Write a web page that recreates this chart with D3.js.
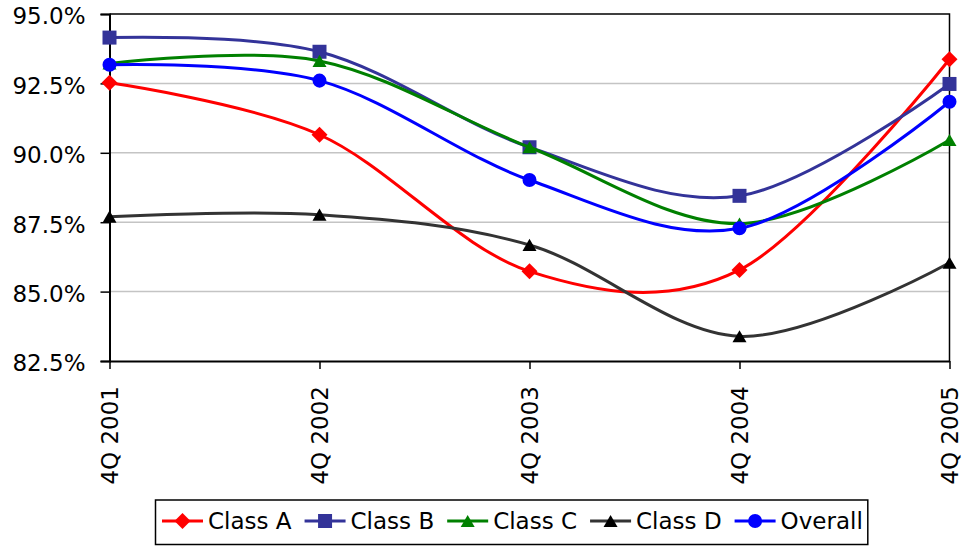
<!DOCTYPE html>
<html>
<head>
<meta charset="utf-8">
<script src="https://cdn.jsdelivr.net/npm/d3@7/dist/d3.min.js"></script>
<style>
  html, body { margin: 0; padding: 0; background: #fff; }
  svg { display: block; }
  text { font-family: "DejaVu Sans", Verdana, sans-serif; fill: #000; }
</style>
</head>
<body>
<svg id="chart" width="962" height="546"></svg>
<script>
// Occupancy rates by quarter
const quarters = ["4Q 2001", "4Q 2002", "4Q 2003", "4Q 2004", "4Q 2005"];
const classA  = [92.52, 90.65, 85.73, 85.78, 93.37];
const classB  = [94.15, 93.64, 90.20, 88.45, 92.48];
const classC  = [93.22, 93.31, 90.20, 87.45, 90.46];
const classD  = [87.70, 87.77, 86.68, 83.39, 86.04];
const overall = [93.17, 92.60, 89.02, 87.28, 91.84];
const yTicks  = [82.5, 85.0, 87.5, 90.0, 92.5, 95.0];

const seriesNames = ["Class A", "Class B", "Class C", "Class D", "Overall"];
const seriesValues = [classA, classB, classC, classD, overall];
const lineColors   = ["#ff0000", "#333399", "#008000", "#333333", "#0000ff"];
const markerColors = ["#ff0000", "#333399", "#008000", "#000000", "#0000ff"];
const markerKinds  = ["diamond", "square", "triangle", "triangle", "circle"];

const svg = d3.select("#chart");
const plot = { left: 109.5, right: 949.5, top: 14, bottom: 361 };

const x = d3.scalePoint().domain(quarters).range([plot.left, plot.right]);
const y = d3.scaleLinear().domain([82.5, 95]).range([plot.bottom, plot.top]);

// gridlines
svg.append("g").selectAll("line")
  .data(yTicks.filter(v => v > 82.5 && v < 95))
  .join("line")
  .attr("x1", plot.left).attr("x2", plot.right)
  .attr("y1", d => y(d)).attr("y2", d => y(d))
  .attr("stroke", "#c4c4c4").attr("stroke-width", 1.5);

// top and right frame
svg.append("path")
  .attr("d", `M${plot.left},${plot.top}H${plot.right}V${plot.bottom}`)
  .attr("fill", "none").attr("stroke", "#000").attr("stroke-width", 1.5);

// y axis
const yAxis = svg.append("g")
  .attr("transform", `translate(${plot.left},0)`)
  .call(d3.axisLeft(y).tickValues(yTicks).tickSize(9).tickPadding(15)
    .tickFormat(d => d.toFixed(1) + "%"));
yAxis.select(".domain").attr("stroke-width", 2);
yAxis.selectAll(".tick line").attr("stroke-width", 1.5);
yAxis.selectAll("text")
  .style("font-family", '"DejaVu Sans", Verdana, sans-serif')
  .style("font-size", "23px")
  .attr("dy", "0.43em")
  .attr("x", -24);

// x axis
const xAxis = svg.append("g")
  .attr("transform", `translate(0,${plot.bottom})`)
  .call(d3.axisBottom(x).tickSize(8).tickSizeOuter(0));
xAxis.select(".domain").attr("stroke-width", 2);
xAxis.selectAll(".tick line").attr("stroke-width", 1.5);
xAxis.selectAll("text")
  .style("font-family", '"DejaVu Sans", Verdana, sans-serif')
  .style("font-size", "23px")
  .style("text-anchor", "end")
  .attr("transform", "rotate(-90)")
  .attr("x", -25).attr("y", 0).attr("dy", "0.35em");

// marker shapes
function markerPath(kind) {
  if (kind === "diamond") return d3.symbol(d3.symbolSquare, 128)();
  if (kind === "square") return d3.symbol(d3.symbolSquare, 196)();
  if (kind === "circle") return d3.symbol(d3.symbolCircle, 154)();
  return d3.symbol(d3.symbolTriangle, 85)();
}
function markerTransform(kind, px, py) {
  if (kind === "diamond") return `translate(${px},${py}) rotate(45)`;
  if (kind === "triangle") return `translate(${px},${py + 2})`;
  return `translate(${px},${py})`;
}

const line = d3.line()
  .x((d, i) => x(quarters[i]))
  .y(d => y(d))
  .curve(d3.curveCardinal.tension(0));

seriesValues.forEach((vals, s) => {
  const g = svg.append("g");
  g.append("path")
    .datum(vals)
    .attr("d", line)
    .attr("fill", "none")
    .attr("stroke", lineColors[s])
    .attr("stroke-width", 3)
    .attr("stroke-linejoin", "round");
  g.selectAll("path.marker")
    .data(vals)
    .join("path")
    .attr("class", "marker")
    .attr("d", markerPath(markerKinds[s]))
    .attr("transform", (d, i) => markerTransform(markerKinds[s], x(quarters[i]), y(d)))
    .attr("fill", markerColors[s]);
});

// legend
const legend = svg.append("g");
const legendBox = legend.append("rect")
  .attr("fill", "#fff").attr("stroke", "#000").attr("stroke-width", 1.5);
const ly = 521;
const itemGap = 13;
let cx = 162;
seriesNames.forEach((name, s) => {
  const item = legend.append("g");
  item.append("line")
    .attr("x1", cx).attr("x2", cx + 41)
    .attr("y1", ly).attr("y2", ly)
    .attr("stroke", lineColors[s]).attr("stroke-width", 3);
  item.append("path")
    .attr("d", markerPath(markerKinds[s]))
    .attr("transform", markerTransform(markerKinds[s], cx + 20.5, ly))
    .attr("fill", markerColors[s]);
  const t = item.append("text")
    .attr("x", cx + 46).attr("y", ly).attr("dy", "0.36em")
    .style("font-size", "23px")
    .text(name);
  cx += 46 + t.node().getComputedTextLength() + itemGap;
});
legendBox
  .attr("x", 155.5).attr("y", 500)
  .attr("width", cx - itemGap + 5 - 155.5).attr("height", 44.5);
</script>
</body>
</html>
